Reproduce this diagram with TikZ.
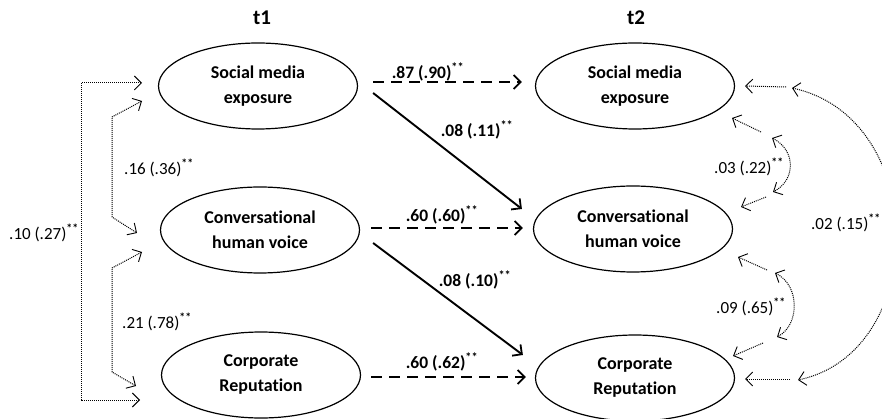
\documentclass[tikz,border=0pt]{standalone}
\usepackage{fontspec}
\setmainfont[Ligatures=NoCommon]{Carlito}
\usetikzlibrary{shapes.geometric,arrows.meta,calc}
\newcommand{\sig}{\textsuperscript{\bfseries**}}
\begin{document}
\begin{tikzpicture}[x=1pt,y=-1pt,
  latent/.style={ellipse,draw,line width=1.2pt,minimum width=199pt,minimum height=86pt,inner sep=0pt,align=center,font=\fontsize{18}{25}\selectfont\bfseries},
  ttl/.style={font=\fontsize{21}{24}\selectfont\bfseries},
  plab/.style={font=\fontsize{17.5}{20}\selectfont\bfseries,inner sep=1pt},
  clab/.style={font=\fontsize{17}{20}\selectfont,inner sep=1pt},
  stab/.style={line width=1.9pt,-{Straight Barb[length=7pt,width=14pt,line width=1.8pt]}},
  auto/.style={line width=1.9pt,dash pattern=on 11pt off 7pt,-{Straight Barb[length=7pt,width=14pt,line width=1.8pt]}},
  cov/.style={line width=1pt,dash pattern=on 1pt off 1pt,{Straight Barb[length=7pt,width=14pt,line width=0.9pt]}-{Straight Barb[length=7pt,width=14pt,line width=0.9pt]}},
  res/.style={line width=1pt,dash pattern=on 1pt off 1pt,-{Straight Barb[length=7pt,width=14pt,line width=0.9pt]}}]
\useasboundingbox (0,0) rectangle (882,419);

% titles
\node[ttl] (t1) at (262,18) {t1};
\node[ttl] (t2) at (636,18) {t2};

% latent variables
\node[latent] (s1) at (258,86) {Social media\\exposure};
\node[latent] (c1) at (260,230) {Conversational\\human voice};
\node[latent] (r1) at (261,375) {Corporate\\Reputation};
\node[latent] (s2) at (635,86) {Social media\\exposure};
\node[latent] (c2) at (633,229) {Conversational\\human voice};
\node[latent] (r2) at (635,378) {Corporate\\Reputation};

% autoregressive and cross-lagged paths
\draw[auto] ($(s1.east)+(15,-4)$) -- ($(s2.west)+(-13,-4)$);
\draw[auto] ($(c1.east)+(11,-2)$) -- ($(c2.west)+(-10,-1)$);
\draw[auto] ($(r1.east)+(10,2)$) -- ($(r2.west)+(-9,-1)$);
\draw[stab] ($(s1.east)+(15,7)$) -- ($(c2.west)+(-11,-20)$);
\draw[stab] ($(c1.east)+(13,13)$) -- ($(r2.west)+(-12,-23)$);

\node[plab] (l1) at (428,72) {.87 (.90)\sig};
\node[plab] (l2) at (477,130) {.08 (.11)\sig};
\node[plab] (l3) at (442,215) {.60 (.60)\sig};
\node[plab] (l4) at (475,280) {.08 (.10)\sig};
\node[plab] (l5) at (442,362) {.60 (.62)\sig};

% t1 covariances (left)
\coordinate (a1) at (142,83);
\coordinate (a2) at (140,400);
\draw[cov] (a1) -- (81,83) -- (81,400) -- (a2);
\coordinate (b1) at (142,101);
\coordinate (b2) at (137,233);
\draw[cov] (b1) -- (112,117) -- (112,217) -- (b2);
\coordinate (d1) at (142,252);
\coordinate (d2) at (136,386);
\draw[cov] (d1) -- (112,268) -- (112,372) -- (d2);

\node[clab] (k1) at (44,233) {.10 (.27)\sig};
\node[clab] (k2) at (159,168) {.16 (.36)\sig};
\node[clab] (k3) at (157,322) {.21 (.78)\sig};

% t2 residual covariances (right)
\coordinate (e1s) at (786,87);  \coordinate (e1t) at (745,86);
\draw[res] (e1s) -- (e1t);
\coordinate (e2s) at (761,132); \coordinate (e2t) at (732,118);
\draw[res] (e2s) -- (e2t);
\coordinate (e3s) at (766,197); \coordinate (e3t) at (741,207);
\draw[res] (e3s) -- (e3t);
\coordinate (e4s) at (767,270); \coordinate (e4t) at (738,257);
\draw[res] (e4s) -- (e4t);
\coordinate (e5s) at (763,343); \coordinate (e5t) at (733,356);
\draw[res] (e5s) -- (e5t);
\coordinate (e6s) at (790,379); \coordinate (e6t) at (745,379);
\draw[res] (e6s) -- (e6t);

\coordinate (f1) at (772,138); \coordinate (f2) at (773,192);
\draw[cov] (f1) .. controls (796,150) and (796,180) .. (f2);
\coordinate (g1) at (775,273); \coordinate (g2) at (777,337);
\draw[cov] (g1) .. controls (800,285) and (800,325) .. (g2);
\coordinate (h1) at (792,88); \coordinate (h2) at (798,380);
\draw[cov] (h1) .. controls (930,118) and (930,352) .. (h2);

\node[clab] (k4) at (749,167) {.03 (.22)\sig};
\node[clab] (k5) at (751,307) {.09 (.65)\sig};
\node[clab,fill=white,anchor=west] (k6) at (810,223) {.02 (.15)\sig};
\end{tikzpicture}
\end{document}
